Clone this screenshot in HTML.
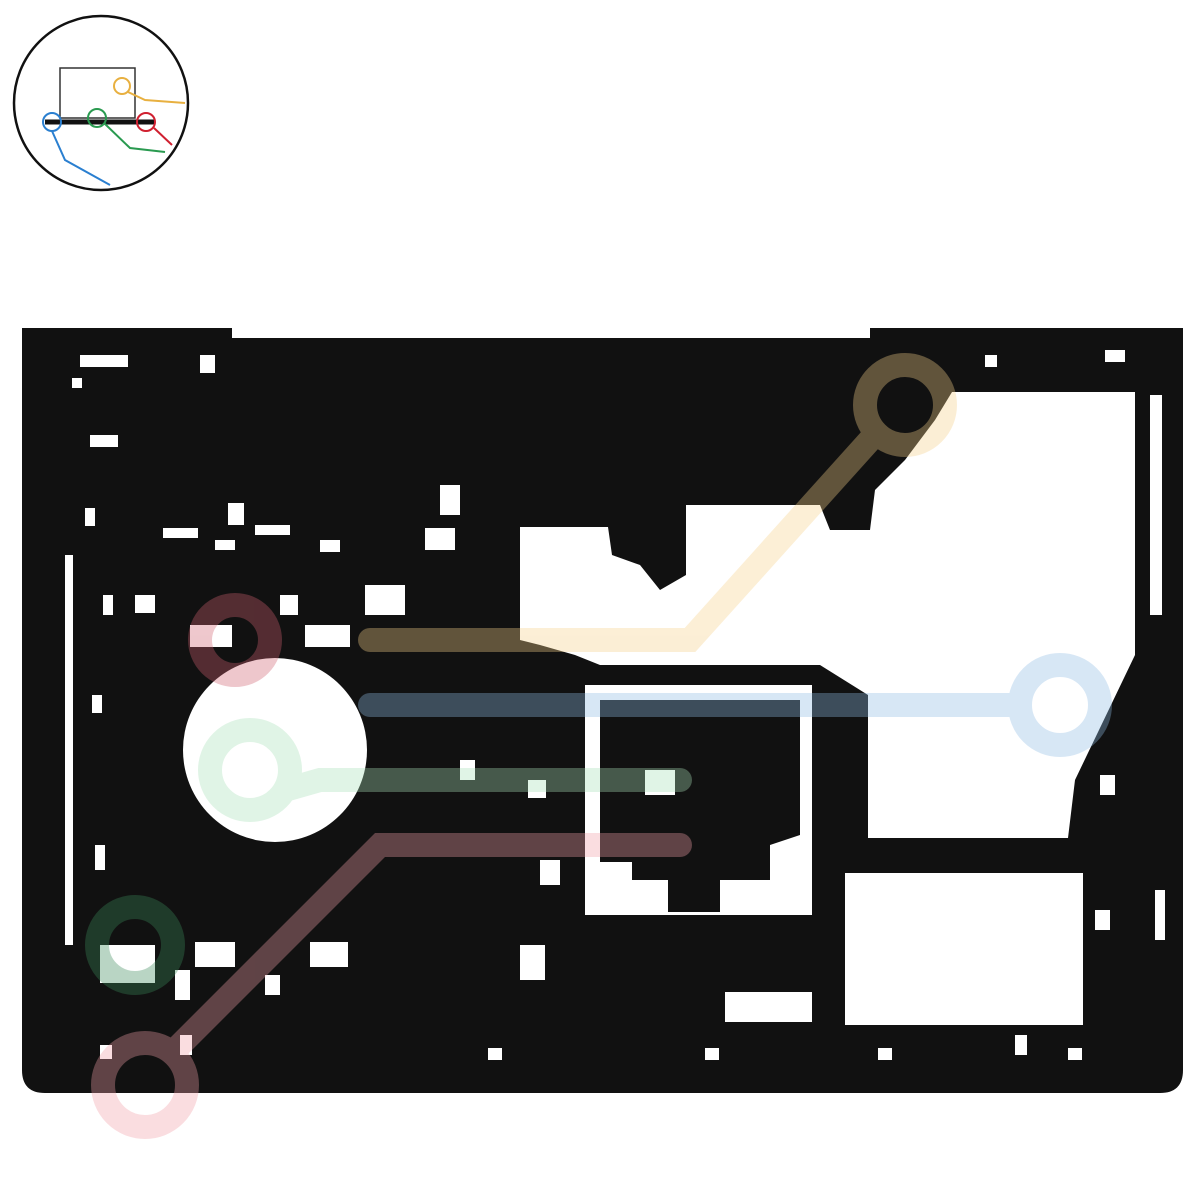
<!DOCTYPE html>
<html><head><meta charset="utf-8"><style>html,body{margin:0;padding:0;background:#fff}svg{display:block}</style></head>
<body>
<svg width="1200" height="1200" viewBox="0 0 1200 1200" xmlns="http://www.w3.org/2000/svg">
<rect width="1200" height="1200" fill="#fff"/>
<circle cx="101" cy="103" r="87" fill="#fff" stroke="#111" stroke-width="2.5"/>
<rect x="60" y="68" width="75" height="50" fill="none" stroke="#333" stroke-width="1.5"/>
<path d="M128 92 L145 100 L185 103" fill="none" stroke="#e8b040" stroke-width="2"/>
<circle cx="122" cy="86" r="8" fill="none" stroke="#e8b040" stroke-width="2"/>
<line x1="45" y1="122" x2="155" y2="122" stroke="#111" stroke-width="5"/>
<circle cx="52" cy="122" r="9" fill="none" stroke="#2a7fd0" stroke-width="2"/>
<path d="M52 131 L65 160 L110 185" fill="none" stroke="#2a7fd0" stroke-width="2"/>
<circle cx="97" cy="118" r="9" fill="none" stroke="#2a9a50" stroke-width="2"/>
<path d="M105 124 L130 148 L165 152" fill="none" stroke="#2a9a50" stroke-width="2"/>
<circle cx="146" cy="122" r="9" fill="none" stroke="#d02030" stroke-width="2"/>
<path d="M154 128 L172 145" fill="none" stroke="#d02030" stroke-width="2"/>
<path d="M22 328 L232 328 L232 338 L870 338 L870 328 L1183 328 L1183 1070 Q1183 1093 1160 1093 L45 1093 Q22 1093 22 1070 Z" fill="#111"/>
<g fill="#fff">
<path d="M520 527 L608 527 L612 555 L640 565 L660 590 L686 575 L686 505 L820 505 L830 530 L870 530 L875 490 L905 460 L935 420 L952 392 L1135 392 L1135 655 L1075 780 L1068 838 L868 838 L868 695 L820 665 L600 665 L575 655 L540 645 L520 640 Z"/>
<rect x="845" y="873" width="238" height="152"/>
<rect x="725" y="992" width="87" height="30"/>
<circle cx="275" cy="750" r="92"/>
<path d="M585 685 L812 685 L812 915 L585 915 Z"/>
</g>
<path d="M600 700 L800 700 L800 835 L770 845 L770 880 L720 880 L720 912 L668 912 L668 880 L632 880 L632 862 L600 862 Z" fill="#111"/>
<g fill="#fff">
<rect x="200" y="355" width="15" height="18"/><rect x="80" y="355" width="48" height="12"/><rect x="72" y="378" width="10" height="10"/>
<rect x="90" y="435" width="28" height="12"/><rect x="85" y="508" width="10" height="18"/><rect x="228" y="503" width="16" height="22"/>
<rect x="163" y="528" width="35" height="10"/><rect x="215" y="540" width="20" height="10"/><rect x="255" y="525" width="35" height="10"/>
<rect x="320" y="540" width="20" height="12"/><rect x="425" y="528" width="30" height="22"/><rect x="440" y="485" width="20" height="30"/>
<rect x="135" y="595" width="20" height="18"/><rect x="103" y="595" width="10" height="20"/><rect x="280" y="595" width="18" height="20"/>
<rect x="365" y="585" width="40" height="30"/><rect x="190" y="625" width="42" height="22"/><rect x="305" y="625" width="45" height="22"/>
<rect x="92" y="695" width="10" height="18"/><rect x="95" y="845" width="10" height="25"/><rect x="460" y="760" width="15" height="20"/>
<rect x="528" y="780" width="18" height="18"/><rect x="645" y="770" width="30" height="25"/><rect x="540" y="860" width="20" height="25"/>
<rect x="520" y="945" width="25" height="35"/><rect x="100" y="945" width="55" height="38"/><rect x="195" y="942" width="40" height="25"/>
<rect x="310" y="942" width="38" height="25"/><rect x="175" y="970" width="15" height="30"/><rect x="265" y="975" width="15" height="20"/>
<rect x="100" y="1045" width="12" height="14"/><rect x="180" y="1035" width="12" height="20"/><rect x="488" y="1048" width="14" height="12"/>
<rect x="705" y="1048" width="14" height="12"/><rect x="878" y="1048" width="14" height="12"/><rect x="1015" y="1035" width="12" height="20"/>
<rect x="1068" y="1048" width="14" height="12"/><rect x="1100" y="775" width="15" height="20"/><rect x="1095" y="910" width="15" height="20"/>
<rect x="1150" y="395" width="12" height="220"/><rect x="1105" y="350" width="20" height="12"/><rect x="985" y="355" width="12" height="12"/>
<rect x="1155" y="890" width="10" height="50"/><rect x="65" y="555" width="8" height="390"/>
</g>
<g fill="none" stroke-linecap="round" opacity="0.35">
<path d="M1010 705 L370 705" stroke="#8fbce5" stroke-width="24"/>
<circle cx="1060" cy="705" r="40" stroke="#8fbce5" stroke-width="24"/>
<path d="M870 440 L690 640 L370 640" stroke="#f5d08a" stroke-width="24"/>
<circle cx="905" cy="405" r="40" stroke="#f5d08a" stroke-width="24"/>
<circle cx="235" cy="640" r="35" stroke="#d06070" stroke-width="24"/>
<path d="M285 790 L320 780 L680 780" stroke="#a8e0b8" stroke-width="24"/>
<circle cx="250" cy="770" r="40" stroke="#a8e0b8" stroke-width="24"/>
<path d="M175 1050 L380 845 L680 845" stroke="#f2a0a8" stroke-width="24"/>
<circle cx="145" cy="1085" r="42" stroke="#f2a0a8" stroke-width="24"/>
<circle cx="135" cy="945" r="38" stroke="#3a8a5a" stroke-width="24"/>
</g>
</svg>
</body></html>
